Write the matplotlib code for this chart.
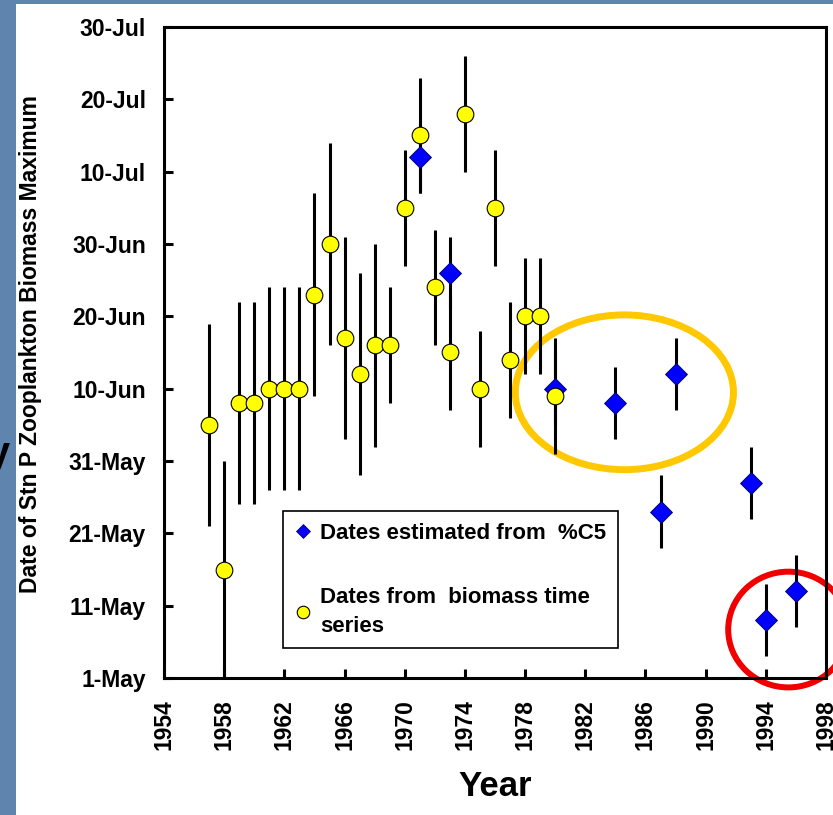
import matplotlib
matplotlib.use("Agg")
import matplotlib.pyplot as plt
from matplotlib.patches import Ellipse, Rectangle
from matplotlib.lines import Line2D

plt.rcParams['font.family'] = ['Liberation Sans', 'DejaVu Sans']

# dates are stored as days after 1 May
date_ticks = [0, 10, 20, 30, 40, 50, 60, 70, 80, 90]
date_labels = ['1-May', '11-May', '21-May', '31-May', '10-Jun',
               '20-Jun', '30-Jun', '10-Jul', '20-Jul', '30-Jul']
year_ticks = list(range(1954, 1999, 4))

# biomass time series maxima
bio_years = [1957, 1958, 1959, 1960, 1961, 1962, 1963, 1964, 1965, 1966, 1967, 1968,
             1969, 1970, 1971, 1972, 1973, 1974, 1975, 1976, 1977, 1978, 1979, 1980]
bio_days = [35, 15, 38, 38, 40, 40, 40, 53, 60, 47, 42, 46,
            46, 65, 75, 54, 45, 78, 40, 65, 44, 50, 50, 39]
bio_err = [14, 15, 14, 14, 14, 14, 14, 14, 14, 14, 14, 14,
           8, 8, 8, 8, 8, 8, 8, 8, 8, 8, 8, 8]

# estimates from %C5
c5_years = [1971, 1973, 1980, 1984, 1987, 1988, 1993, 1994, 1996]
c5_days = [72, 56, 40, 38, 23, 42, 27, 8, 12]
c5_err = [5, 5, 5, 5, 5, 5, 5, 5, 5]

W, H = 833, 815
fig = plt.figure(figsize=(W / 100, H / 100), dpi=100)
fig.patch.set_facecolor('#5f84ad')
# white slide panel
fig.patches.append(Rectangle((16 / W, 0), 1, 1 - 4 / H, transform=fig.transFigure,
                             facecolor='white', edgecolor='none', zorder=-1))
fig.text(10 / W, 1 - 466 / H, 'y', fontsize=30, fontweight='bold', ha='right',
         va='baseline', color='black')

ax = fig.add_axes([164 / W, (H - 678) / H, (826 - 164) / W, (678 - 27) / H])
ax.set_facecolor('white')

ax.errorbar(c5_years, c5_days, yerr=c5_err, fmt='none', ecolor='black',
            elinewidth=2.2, capsize=0, zorder=2)
ax.errorbar(bio_years, bio_days, yerr=bio_err, fmt='none', ecolor='black',
            elinewidth=2.2, capsize=0, zorder=2)
ax.plot(c5_years, c5_days, 'D', color='#0000ff', markersize=11,
        markeredgecolor='#000050', markeredgewidth=0.6, zorder=3)
ax.plot(bio_years, bio_days, 'o', color='#ffff00', markersize=12,
        markeredgecolor='black', markeredgewidth=0.8, zorder=4)

# highlight rings
ax.add_patch(Ellipse((1984.6, 39.5), 14.5, 21.4, fill=False, edgecolor='#ffc800',
                     linewidth=5, clip_on=False, zorder=1.5))
ax.add_patch(Ellipse((1995.5, 6.7), 8.0, 16.0, fill=False, edgecolor='#f00000',
                     linewidth=4.3, clip_on=False, zorder=1.5))

ax.set_xlim(1954, 1998)
ax.set_ylim(0, 90)
ax.set_xticks(year_ticks)
ax.set_xticklabels([str(y) for y in year_ticks], rotation=90, fontsize=16.5,
                   fontweight='bold')
ax.set_yticks(date_ticks)
ax.set_yticklabels(date_labels, fontsize=16.5, fontweight='bold')
ax.tick_params(axis='both', direction='in', length=6.5, width=2.2)
ax.tick_params(axis='y', pad=13)
ax.tick_params(axis='x', pad=15)
for s in ax.spines.values():
    s.set_linewidth(2.2)

handles = [Line2D([], [], linestyle='none', marker='D', color='#0000ff',
                  markersize=7, markeredgewidth=0.5, markeredgecolor='#000050'),
           Line2D([], [], linestyle='none', marker='o', color='#ffff00',
                  markersize=9, markeredgewidth=0.8, markeredgecolor='black')]
labels = ['Dates estimated from  %C5', 'Dates from  biomass time\nseries']
leg = ax.legend(handles, labels, loc='upper left',
                bbox_to_anchor=((283 - 164) / 662, (678 - 511) / 651),
                borderaxespad=0, frameon=True, fancybox=False, framealpha=1,
                edgecolor='black', prop={'size': 16, 'weight': 'bold'},
                handlelength=0.8, handletextpad=0.35, borderpad=0.52,
                labelspacing=1.95)
leg.get_frame().set_linewidth(1.2)
for t in leg.get_texts():
    t.set_linespacing(1.5)

fig.text(31 / W, 1 - 344 / H, 'Date of Stn P Zooplankton Biomass Maximum',
         rotation=90, fontsize=16.5, fontweight='bold', ha='center', va='center')
fig.text(495 / W, 1 - 786 / H, 'Year', fontsize=25, fontweight='bold',
         ha='center', va='center')

fig.savefig('out.png', dpi=100, facecolor=fig.get_facecolor())
